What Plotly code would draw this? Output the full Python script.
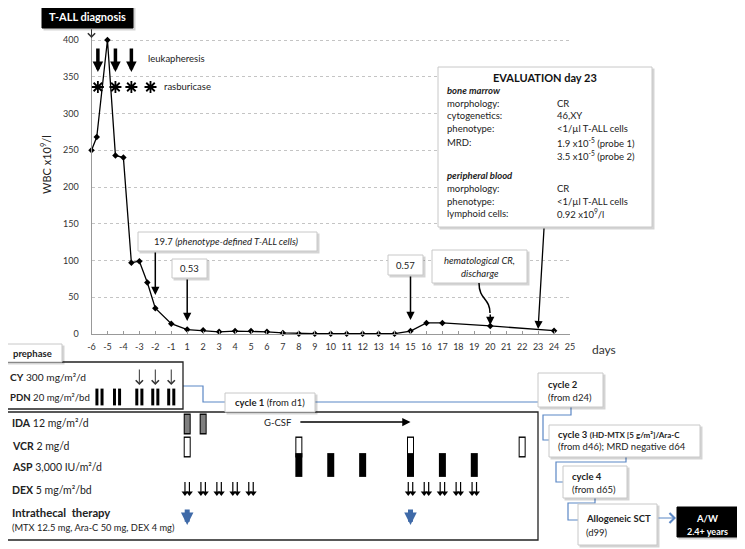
import plotly.graph_objects as go

# the page puts the figure 8px in from the top-left corner
OFF = 8
W, H = 745 - OFF, 549 - OFF
FONT = 'Lato'

# WBC count (x10^9/l) by treatment day; the day axis has no day 0
wbc_days = [-6, -5.67, -5, -4.5, -4, -3.5, -3, -2.5, -2, -1, 1, 2, 3, 4, 5, 6, 7, 8,
            9, 10, 11, 12, 13, 14, 15, 16, 17, 20, 24]
wbc_values = [250, 268, 400, 243, 240, 97, 99, 70, 35, 14, 6, 5, 3, 4, 4, 3, 1.5, 0.5,
              0.5, 0.5, 0.5, 0.5, 0.5, 0.5, 4, 15, 15, 11, 4.5]
day_ticks = [-6, -5, -4, -3, -2, -1] + list(range(1, 26))
y_ticks = [0, 50, 100, 150, 200, 250, 300, 350, 400]

leukapheresis_days = [-5.6, -4.5, -3.5]
rasburicase_days = [-5.6, -4.5, -3.5, -2.3]

cy_days = [-3, -2, -1]
pdn_days = [-5.5, -4.4, -3, -2, -1]
ida_days = [1, 2]
vcr_days = [1, 8, 15, 22]
asp_days = [8, 10, 12, 15, 17, 19]
dex_days = [1, 2, 3, 4, 5, 15, 16, 17, 18, 19]
intrathecal_days = [1, 15]
gcsf_days = [8, 15]

# pixel frame of the WBC panel (page pixels)
X0, X1 = 91.5, 570
STEP = (X1 - X0) / 30
Y_ZERO, Y_TOP = 334, 29


def pos(day):
    return day + 6 if day < 0 else day + 5


def px(x):
    return (x - OFF) / W


def py(y):
    return 1 - (y - OFF) / H


shapes = []
annotations = []


def box(x0, y0, x1, y1, fill='white', line='#c8c8c8', width=1, shadow=True):
    if shadow:
        shapes.append(dict(type='rect', xref='paper', yref='paper',
                           x0=px(x0 + 1.5), x1=px(x1 + 2.5), y0=py(y0 + 1.5), y1=py(y1 + 2.5),
                           fillcolor='rgba(0,0,0,0.17)', line=dict(width=0)))
    shapes.append(dict(type='rect', xref='paper', yref='paper',
                       x0=px(x0), x1=px(x1), y0=py(y0), y1=py(y1),
                       fillcolor=fill, line=dict(color=line, width=width)))


def label(x, y, s, size=9.5, anchor='left', color='#222'):
    annotations.append(dict(xref='paper', yref='paper', x=px(x), y=py(y), text=s,
                            showarrow=False, xanchor=anchor, yanchor='middle',
                            font=dict(family=FONT, size=size, color=color)))


def arrow(day, tip, dx, dy, color='black', width=1.5, size=1.1, head=2):
    annotations.append(dict(xref='x2', yref='y2', x=pos(day), y=tip, ax=dx, ay=dy,
                            text='', showarrow=True, arrowhead=head, arrowwidth=width,
                            arrowsize=size, arrowcolor=color, standoff=0, startstandoff=0))


def connector(points, color='#5b87c5'):
    path = 'M ' + ' L '.join(f'{px(x)},{py(y)}' for x, y in points)
    shapes.append(dict(type='path', xref='paper', yref='paper', path=path,
                       line=dict(color=color, width=1.2)))


fig = go.Figure()

fig.add_trace(go.Scatter(
    x=[pos(d) for d in wbc_days], y=wbc_values, mode='lines+markers',
    line=dict(color='black', width=1.3),
    marker=dict(symbol='diamond', size=5, color='black'),
    cliponaxis=False, hoverinfo='skip', xaxis='x', yaxis='y'))

fig.add_trace(go.Scatter(
    x=[pos(d) for d in rasburicase_days], y=[87] * len(rasburicase_days), mode='markers',
    marker=dict(symbol='asterisk', size=10, color='black', line=dict(color='black', width=1.8)),
    hoverinfo='skip', xaxis='x2', yaxis='y2'))


def bars(days, yc, h, w, fill):
    x = [pos(d) for d in days]
    fig.add_trace(go.Scatter(
        x=x, y=[yc] * len(x), mode='markers', hoverinfo='skip', xaxis='x2', yaxis='y2',
        marker=dict(symbol='line-ns', size=h, color='black', line=dict(color='black', width=w))))
    if fill != 'black':
        fig.add_trace(go.Scatter(
            x=x, y=[yc] * len(x), mode='markers', hoverinfo='skip', xaxis='x2', yaxis='y2',
            marker=dict(symbol='line-ns', size=h - 2, color=fill, line=dict(color=fill, width=w - 2))))


for off in (-0.16, 0.16):
    fig.add_trace(go.Scatter(
        x=[pos(d) + off for d in pdn_days], y=[397] * len(pdn_days), mode='markers',
        hoverinfo='skip', xaxis='x2', yaxis='y2',
        marker=dict(symbol='line-ns', size=12, color='black', line=dict(color='black', width=3))))

bars(ida_days, 424, 15, 7, '#7f7f7f')
bars(vcr_days, 447, 15, 7, 'white')
bars(asp_days, 465, 17, 7, 'black')

dex_x, dex_y, head_x = [], [], []
for d in dex_days:
    for off in (-0.14, 0.14):
        dex_x += [pos(d) + off, pos(d) + off, None]
        dex_y += [482, 492, None]
        head_x.append(pos(d) + off)
fig.add_trace(go.Scatter(x=dex_x, y=dex_y, mode='lines', line=dict(color='black', width=1.2),
                         hoverinfo='skip', xaxis='x2', yaxis='y2'))
fig.add_trace(go.Scatter(x=head_x, y=[493] * len(head_x), mode='markers',
                         marker=dict(symbol='triangle-down', size=6, color='black'),
                         hoverinfo='skip', xaxis='x2', yaxis='y2'))

# connectors and frames
connector([(183, 386), (203, 386), (203, 402), (538, 402)])
connector([(571, 407), (571, 415), (543, 415), (543, 440), (549, 440)])
connector([(626, 457), (626, 462), (556, 462), (556, 482), (563, 482)])
connector([(595, 498), (595, 503), (568, 503), (568, 520), (578, 520)])

shapes.append(dict(type='rect', xref='paper', yref='paper', x0=px(3), x1=px(183),
                   y0=py(362), y1=py(409), line=dict(color='#222', width=1.3)))
shapes.append(dict(type='rect', xref='paper', yref='paper', x0=px(3), x1=px(538),
                   y0=py(412), y1=py(540), line=dict(color='#222', width=1.3)))

box(42, 6, 133, 28, fill='black', line='black')
label(87.5, 17, '<b>T-ALL diagnosis</b>', size=11, anchor='center', color='white')

box(138, 232, 317, 251)
label(227, 241.5, '19.7 <i>(phenotype-defined T-ALL cells)</i>', anchor='center')
box(172, 259, 207, 278)
label(189.5, 268.5, '0.53', anchor='center')
box(388, 255, 423, 275)
label(405.5, 265, '0.57', anchor='center')
box(432, 250, 527, 283)
label(479.5, 260, '<i>hematological CR,</i>', anchor='center')
label(479.5, 273, '<i>discharge</i>', anchor='center')

box(438, 67, 652, 227)
label(545, 77, '<b>EVALUATION day 23</b>', size=11, anchor='center', color='#111')
label(445, 90, '<b><i>bone marrow</i></b>')
eval_rows = [('morphology:', 'CR', 103), ('cytogenetics:', '46,XY', 116),
             ('phenotype:', '&lt;1/µl T-ALL cells', 129),
             ('MRD:', '1.9 x10<sup>-5</sup> (probe 1)', 142),
             ('', '3.5 x10<sup>-5</sup> (probe 2)', 155)]
for left, right, yy in eval_rows:
    if left:
        label(445, yy, left)
    label(555, yy, right)
label(445, 175, '<b><i>peripheral blood</i></b>')
for left, right, yy in [('morphology:', 'CR', 188), ('phenotype:', '&lt;1/µl T-ALL cells', 201),
                        ('lymphoid cells:', '0.92 x10<sup>9</sup>/l', 214)]:
    label(445, yy, left)
    label(555, yy, right)

box(3, 344, 62, 362)
label(32.5, 353, '<b>prephase</b>', anchor='center')
label(8, 377, '<b>CY</b> 300 mg/m²/d', size=10.2)
label(8, 397, '<b>PDN</b> 20 mg/m²/bd', size=9.6)

box(225, 393, 315, 412)
label(270, 402.5, '<b>cycle 1</b> (from d1)', anchor='center')

for text, yy in [('<b>IDA</b> 12 mg/m²/d', 423), ('<b>VCR</b> 2 mg/d', 446),
                 ('<b>ASP</b> 3,000 IU/m²/d', 467), ('<b>DEX</b> 5 mg/m²/bd', 490)]:
    label(10, yy, text, size=10.5)
label(10, 512, '<b>Intrathecal  therapy</b>', size=11.3)
label(10, 527, '(MTX 12.5 mg, Ara-C 50 mg, DEX 4 mg)', size=9.3)

label(pos(gcsf_days[0]) * STEP + X0 - 5, 422, 'G-CSF', size=9.5, anchor='right')

box(538, 373, 603, 407)
label(546, 384, '<b>cycle 2</b>')
label(546, 397, '(from d24)')
box(549, 425, 700, 457)
label(556, 434, '<b>cycle 3</b> <b><span style="font-size:8px">(HD-MTX [5 g/m²]/Ara-C</span></b>')
label(556, 447, '(from d46); MRD negative d64')
box(563, 466, 627, 498)
label(570, 476, '<b>cycle 4</b>')
label(570, 489, '(from d65)')
box(578, 504, 657, 545)
label(584, 518, '<b>Allogeneic SCT</b>')
label(584, 532, '(d99)')
box(677, 507, 737, 537, fill='black', line='black')
label(707, 518, '<b>A/W</b>', anchor='center', color='white')
label(707, 531, '<b>2.4+ years</b>', size=9, anchor='center', color='white')
annotations.append(dict(xref='paper', yref='paper', x=px(676), y=py(518), ax=-19, ay=0,
                        text='', showarrow=True, arrowhead=4, arrowwidth=1.2, arrowsize=1.6,
                        arrowcolor='#5b87c5', standoff=0))

# hematological CR arrow has a bend
shapes.append(dict(type='path', xref='paper', yref='paper',
                   path=f'M {px(479)},{py(283)} C {px(479)},{py(300)} {px(490)},{py(298)} {px(490)},{py(313)}',
                   line=dict(color='black', width=1.5)))

# arrows
arrow(-6, 38, 0, -10, color='#333', width=1, size=1.4, head=4)
for d in leukapheresis_days:
    arrow(d, 72, 0, -25, width=3.5, size=0.6)
arrow(-2, 295, 0, -44, width=1.5, size=1.1)
arrow(1, 321, 0, -43, width=1.5, size=1.1)
arrow(15, 320, 0, -45, width=1.5, size=1.1)
arrow(20, 325, 0, -12, width=1.5, size=1.1)
arrow(23, 329, 6, -102, width=1.3, size=1.25)
for d in cy_days:
    arrow(d, 385, 0, -17, color='#333', width=1, size=1.4, head=4)
arrow(gcsf_days[1], 422, -(pos(gcsf_days[1]) - pos(gcsf_days[0])) * STEP, 0, width=1.5, size=1.1)
for d in intrathecal_days:
    arrow(d, 525, 0, -17, color='#3f6aa8', width=5, size=0.5)

label(146, 59, 'leukapheresis')
label(162, 87, 'rasburicase')
label(590, 349, 'days', size=12, color='#333')
annotations.append(dict(xref='paper', yref='paper', x=px(45), y=py(165),
                        text='WBC x10<sup>9</sup>/l', textangle=-90, showarrow=False,
                        xanchor='center', yanchor='middle',
                        font=dict(family=FONT, size=11, color='#222')))

fig.update_layout(
    template='none',
    width=W, height=H, margin=dict(l=0, r=0, t=0, b=0, pad=0, autoexpand=False),
    paper_bgcolor='white', plot_bgcolor='rgba(0,0,0,0)', showlegend=False,
    font=dict(family=FONT, size=10, color='#222'),
    xaxis=dict(domain=[px(X0), px(X1)], range=[0, 30], tickvals=list(range(31)),
               ticktext=[str(d) for d in day_ticks], ticks='inside', ticklen=3,
               tickcolor='#999', showline=True, linecolor='#999', showgrid=False,
               zeroline=False, tickfont=dict(size=9, color='#333'), ticklabelstandoff=4,
               anchor='y', automargin=False, fixedrange=True),
    yaxis=dict(domain=[py(Y_ZERO), py(Y_TOP)],
               range=[0, 400 * (Y_ZERO - Y_TOP) / (Y_ZERO - 40)],
               tickvals=y_ticks, showgrid=True, gridcolor='#c4c4c4', griddash='dot',
               showline=True, linecolor='#999', zeroline=False, ticks='',
               tickfont=dict(size=9, color='#333'), ticklabelstandoff=10, anchor='x',
               automargin=False, fixedrange=True),
    xaxis2=dict(domain=[0, 1], range=[(OFF - X0) / STEP, (745 - X0) / STEP], visible=False,
                anchor='y2', automargin=False),
    yaxis2=dict(domain=[0, 1], range=[549, OFF], visible=False, anchor='x2', automargin=False),
    shapes=shapes, annotations=annotations,
)

fig.write_html('out.html')
